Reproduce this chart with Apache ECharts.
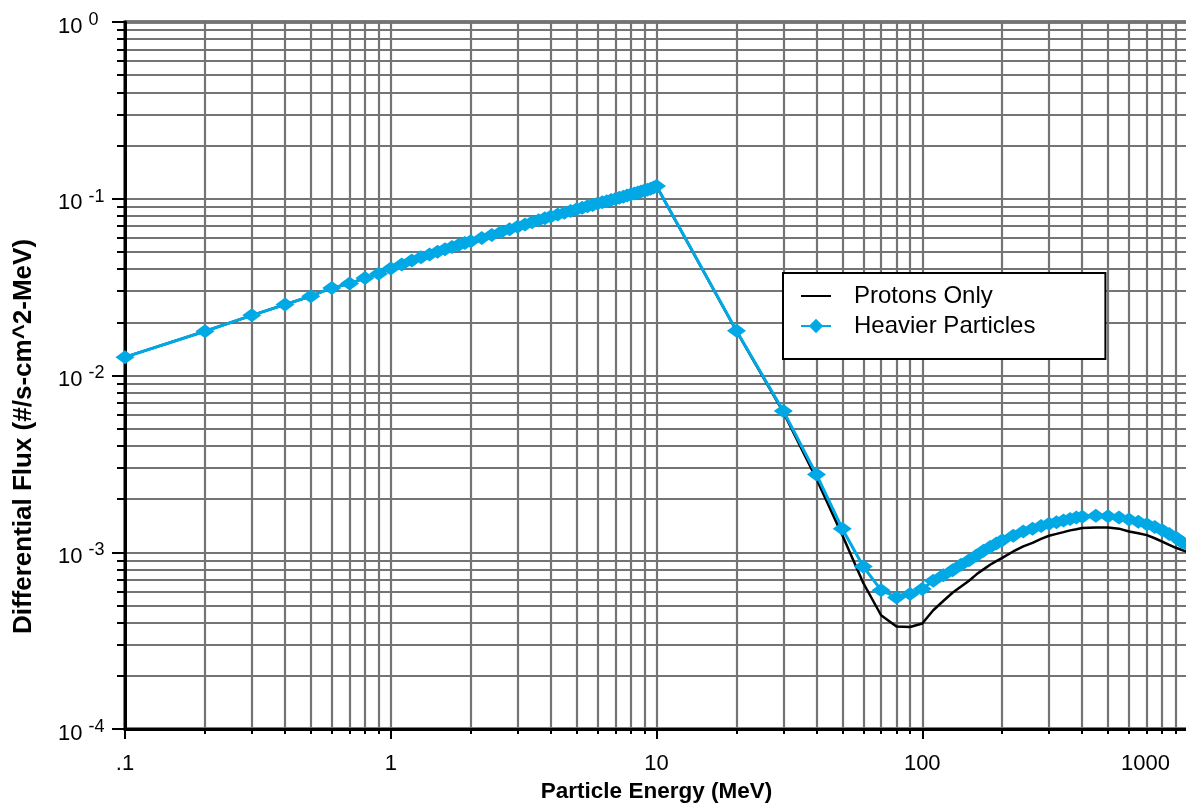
<!DOCTYPE html>
<html>
<head>
<meta charset="utf-8">
<script src="https://cdn.jsdelivr.net/npm/echarts@6/dist/echarts.min.js"></script>
<style>
html,body{margin:0;padding:0;background:#fff;}
#chart{width:1186px;height:810px;}
</style>
</head>
<body>
<div id="chart"></div>
<script>
// Particle energy (MeV)
const energies = [
  0.1,0.2,0.3,0.4,0.5,0.6,0.7,0.8,0.9,
  1.0,1.1,1.2,1.3,1.4,1.5,1.6,1.7,1.8,1.9,
  2.0,2.2,2.4,2.6,2.8,3.0,3.2,3.4,3.6,3.8,
  4.0,4.25,4.5,4.75,5.0,5.25,5.5,5.75,6.0,6.25,6.5,6.75,
  7.0,7.25,7.5,7.75,8.0,8.25,8.5,8.75,9.0,9.25,9.5,9.75,
  10,20,30,40,50,60,70,80,90,
  100,110,120,130,140,150,160,170,180,190,
  200,220,240,260,280,300,320,340,360,380,
  400,450,500,550,600,650,700,750,800,850,900,950,1000
];
// Differential flux (#/s-cm^2-MeV)
const protonsOnly = [
  0.0127,0.0178,0.0219,0.0252,0.0281,0.0313,0.0331,0.0356,0.0377,
  0.0403,0.0425,0.0447,0.0466,0.0484,0.0501,0.0518,0.0533,0.0547,0.0561,
  0.0575,0.0600,0.0624,0.0649,0.0673,0.0695,0.0716,0.0736,0.0756,0.0775,
  0.0793,0.0814,0.0834,0.0853,0.0871,0.0889,0.0906,0.0923,0.0940,0.0954,0.0968,0.0983,
  0.0998,0.1013,0.1028,0.1043,0.1057,0.1071,0.1084,0.1098,0.1112,0.1126,0.1140,0.1158,
  0.118,0.0178,0.0062,0.0026,0.00125,0.00067,0.00044,0.00038,0.000378,
  0.000395,0.00047,0.00053,0.00059,0.00064,0.00069,0.00075,0.0008,0.00085,0.00089,
  0.00093,0.00101,0.00108,0.00113,0.00119,0.00124,0.00127,0.0013,0.00133,0.00135,
  0.00137,0.00138,0.00138,0.00136,0.00131,0.00128,0.00125,0.0012,0.00115,0.0011,0.00106,0.00103,0.001
];
const heavierParticles = [
  0.0127,0.0178,0.0219,0.0252,0.0281,0.0313,0.0331,0.0356,0.0377,
  0.0403,0.0425,0.0447,0.0466,0.0484,0.0501,0.0518,0.0533,0.0547,0.0561,
  0.0575,0.0600,0.0624,0.0649,0.0673,0.0695,0.0716,0.0736,0.0756,0.0775,
  0.0793,0.0814,0.0834,0.0853,0.0871,0.0889,0.0906,0.0923,0.0940,0.0954,0.0968,0.0983,
  0.0998,0.1013,0.1028,0.1043,0.1057,0.1071,0.1084,0.1098,0.1112,0.1126,0.1140,0.1158,
  0.118,0.0179,0.0063,0.00275,0.00136,0.00083,0.00061,0.000555,0.00058,
  0.00062,0.00069,0.00074,0.00079,0.00085,0.00090,0.00096,0.00102,0.00107,0.00112,
  0.00117,0.00124,0.00131,0.00136,0.00141,0.00145,0.00148,0.00151,0.00154,0.00157,
  0.00159,0.00161,0.00160,0.00157,0.00153,0.00149,0.00144,0.00139,0.00133,0.00127,0.00121,0.00114,0.00110
];
const xTickLabels = ['.1','1','10','100','1000'];
const yTickExponents = ['0','-1','-2','-3','-4'];
const seriesNames = ['Protons Only','Heavier Particles'];
const xDecades = [-1, 3];
const yDecades = [-4, 0];
const mantissas = [1,2,3,4,5,6,7,8,9];

const L = Math.log10;
function logTicks(lo, hi) {
  const out = [];
  for (let d = lo; d < hi; d++) mantissas.forEach(m => out.push(d + L(m)));
  out.push(hi);
  return out;
}
const xMinor = logTicks(xDecades[0], xDecades[1]);
const yMinor = logTicks(yDecades[0], yDecades[1]);
const toPts = vals => energies.map((e, i) => [L(e), L(vals[i])]);

const FONT = 'Liberation Sans';
const CYAN = '#00a9e6';
const gridLine = { color: '#747474', width: 2.2 };

const chart = echarts.init(document.getElementById('chart'), null, { renderer: 'canvas' });
chart.setOption({
  animation: false,
  backgroundColor: '#fff',
  grid: {
    left: 125, right: -2, top: 22, bottom: 81,
    outerBoundsMode: 'none', containLabel: false,
    show: true, borderColor: '#000', borderWidth: 3, backgroundColor: 'transparent'
  },
  legend: {
    orient: 'vertical', left: 783, top: 273,
    backgroundColor: '#fff', borderColor: '#000', borderWidth: 2,
    padding: [11, 70, 21, 17], itemGap: 6, itemWidth: 30, itemHeight: 18,
    textStyle: { fontFamily: FONT, fontSize: 24, color: '#000', padding: [0, 0, 0, 18] },
    data: [
      { name: seriesNames[0], itemStyle: { opacity: 0 } },
      { name: seriesNames[1] }
    ]
  },
  xAxis: [
    {
      type: 'value', min: xDecades[0], max: xDecades[1], interval: 1, position: 'bottom',
      axisLine: { onZero: false, lineStyle: { color: '#000', width: 3 } },
      axisTick: { length: 10, lineStyle: { color: '#000', width: 2 } },
      axisLabel: {
        margin: 24, fontFamily: FONT, fontSize: 22, color: '#000',
        formatter: v => {
          const i = Math.round(v - xDecades[0]);
          return i === xTickLabels.length - 1 ? '{r|' + xTickLabels[i] + '}' : xTickLabels[i];
        },
        rich: { r: { fontFamily: FONT, fontSize: 22, color: '#000', padding: [0, 85, 0, 0] } }
      },
      splitLine: { show: false },
      name: 'Particle Energy (MeV)', nameLocation: 'middle', nameGap: 49,
      nameTextStyle: { fontFamily: FONT, fontSize: 22.5, fontWeight: 'bold', color: '#000' }
    },
    {
      type: 'value', min: xDecades[0], max: xDecades[1], position: 'bottom', offset: 0,
      axisLine: { show: false, onZero: false },
      axisTick: { customValues: xMinor, length: 5, lineStyle: { color: '#000', width: 2 } },
      axisLabel: { show: false },
      splitLine: { show: true, lineStyle: gridLine }
    }
  ],
  yAxis: [
    {
      type: 'value', min: yDecades[0], max: yDecades[1], interval: 1, position: 'left',
      axisLine: { onZero: false, lineStyle: { color: '#000', width: 3 } },
      axisTick: { length: 13, lineStyle: { color: '#000', width: 2 } },
      axisLabel: {
        margin: 67, align: 'left', fontFamily: FONT, fontSize: 22, color: '#000',
        formatter: v => '{b|10}{s|' + yTickExponents[Math.round(-v)] + '}',
        rich: {
          b: { fontFamily: FONT, fontSize: 22, color: '#000', lineHeight: 22, padding: [9, 0, 0, 0] },
          s: { fontFamily: FONT, fontSize: 18, color: '#000', lineHeight: 18, verticalAlign: 'top', padding: [0, 0, 0, 6] }
        }
      },
      splitLine: { show: false },
      name: 'Differential Flux (#/s-cm^2-MeV)', nameLocation: 'middle', nameGap: 88,
      nameTextStyle: { fontFamily: FONT, fontSize: 26, fontWeight: 'bold', color: '#000', padding: [0, 122, 0, 0] }
    },
    {
      type: 'value', min: yDecades[0], max: yDecades[1], position: 'left', offset: 0,
      axisLine: { show: false, onZero: false },
      axisTick: { customValues: yMinor, length: 8, lineStyle: { color: '#000', width: 2 } },
      axisLabel: { show: false },
      splitLine: { show: true, lineStyle: gridLine }
    }
  ],
  series: [
    {
      name: seriesNames[0], type: 'line', xAxisIndex: 0, yAxisIndex: 0,
      data: toPts(protonsOnly), symbol: 'none', z: 3,
      lineStyle: { color: '#000', width: 2.5 }, itemStyle: { color: '#000' }
    },
    {
      name: seriesNames[1], type: 'line', xAxisIndex: 0, yAxisIndex: 0,
      data: toPts(heavierParticles), symbol: 'diamond', symbolSize: [19, 14], showAllSymbol: true, z: 4,
      lineStyle: { color: CYAN, width: 3 }, itemStyle: { color: CYAN }
    }
  ]
});
</script>
</body>
</html>
